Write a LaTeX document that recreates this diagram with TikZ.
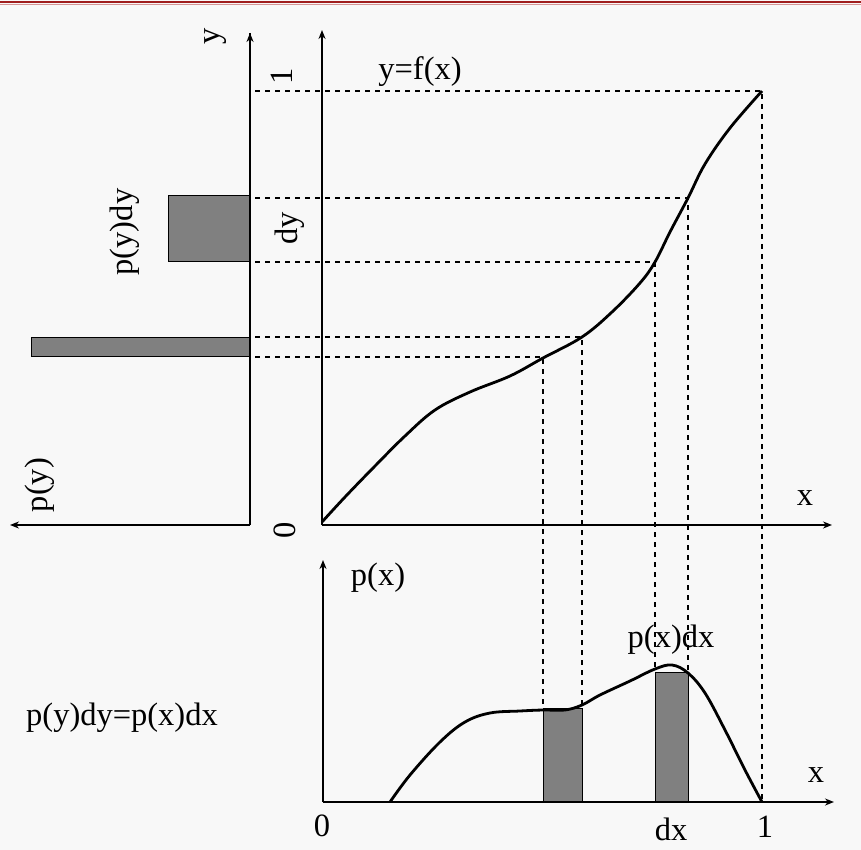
\documentclass[tikz,border=0pt]{standalone}
\usepackage{fontspec}
\setmainfont{Liberation Serif}
\usetikzlibrary{arrows.meta}
\definecolor{bg}{RGB}{248,248,248}
\definecolor{barfill}{RGB}{128,128,128}
\definecolor{topred}{RGB}{160,30,30}
\definecolor{topred2}{RGB}{215,150,150}
\tikzset{
  axis/.style={line width=2.8pt,-{Stealth[length=9pt,width=7pt]}},
  axisline/.style={line width=2.8pt},
  guide/.style={line width=1.1pt,dash pattern=on 5pt off 5pt},
  curve/.style={line width=2.8pt,line join=round},
  bar/.style={draw=black,line width=1pt,fill=barfill},
  lbl/.style={inner sep=0pt,font=\fontsize{32.5}{34}\selectfont},
  rlbl/.style={lbl,rotate=90}
}
\begin{document}
\begin{tikzpicture}[x=1pt,y=-1pt]
\fill[bg] (0,0) rectangle (861,850);
\useasboundingbox (0,0) rectangle (861,850);
\draw[topred,line width=2.5pt] (0,2) -- (861,2);
\draw[topred2,line width=1pt] (0,5) -- (861,5);

% coordinates
\coordinate (LO) at (250,525);
\coordinate (LT) at (250,33);
\coordinate (LL) at (10,525);
\coordinate (MO) at (322,525);
\coordinate (MT) at (322,30);
\coordinate (MR) at (832,525);
\coordinate (BO) at (323,802);
\coordinate (BT) at (323,560);
\coordinate (BR) at (834,802);

% left p(y) plot bars
\draw[bar] (168,196) rectangle (250,261);
\draw[bar] (31,337) rectangle (250,356);

% guide lines
\coordinate (F1) at (762,91);
\coordinate (F2) at (688,198);
\coordinate (F3) at (655,262);
\coordinate (F4) at (582,337);
\coordinate (F5) at (543,357);
\draw[guide] (255,91) -- (F1) -- (762,800);
\draw[guide] (255,198) -- (F2) -- (688,672);
\draw[guide] (255,262) -- (F3) -- (655,670);
\draw[guide] (255,337) -- (F4) -- (582,706);
\draw[guide] (255,357) -- (F5) -- (543,710);

% bottom bars
\draw[bar] (543,802) rectangle (582,708);
\draw[bar] (655,802) rectangle (688,672);

% axes
\draw[axisline] (LT) -- (LO);
\draw[axis] (250,40) -- (LT);
\draw[axis] (LO) -- (LL);
\draw[axis] (MO) -- (MT);
\draw[axis] (MO) -- (MR);
\draw[axis] (BO) -- (BT);
\draw[axis] (BO) -- (BR);

% curves
\draw[curve] plot[smooth,tension=0.6] coordinates {(322,522) (345,497) (375,466) (405,436) (435,410) (470,392) (510,376) (543,358) (582,337) (612,312) (640,283) (655,262) (670,232) (688,198) (705,164) (730,128) (762,91)};
\draw[curve] plot[smooth,tension=0.6] coordinates {(390,802) (410,775) (440,742) (465,722) (490,713) (520,711) (543,710) (565,710) (582,705) (600,695) (630,681) (655,669) (672,665) (688,673) (705,693) (725,730) (745,770) (762,802)};

% labels
\node[rlbl] (ly) at (216,36) {y};
\node[rlbl] (l1) at (282,76) {1};
\node[lbl] (lf) at (420,72) {y=f(x)};
\node[rlbl] (lpydy) at (125,232) {p(y)dy};
\node[rlbl] (ldy) at (290,228) {dy};
\node[rlbl] (lpy) at (40,485) {p(y)};
\node[rlbl] (l0) at (285,530) {0};
\node[lbl] (lx) at (805,498) {x};
\node[lbl] (lpx) at (378,578) {p(x)};
\node[lbl] (lpxdx) at (671,640) {p(x)dx};
\node[lbl] (leq) at (122,718) {p(y)dy=p(x)dx};
\node[lbl] (lx2) at (816,775) {x};
\node[lbl] (lb0) at (322,826) {0};
\node[lbl] (lb1) at (765,827) {1};
\node[lbl] (ldx) at (671,829) {dx};
\end{tikzpicture}
\end{document}
